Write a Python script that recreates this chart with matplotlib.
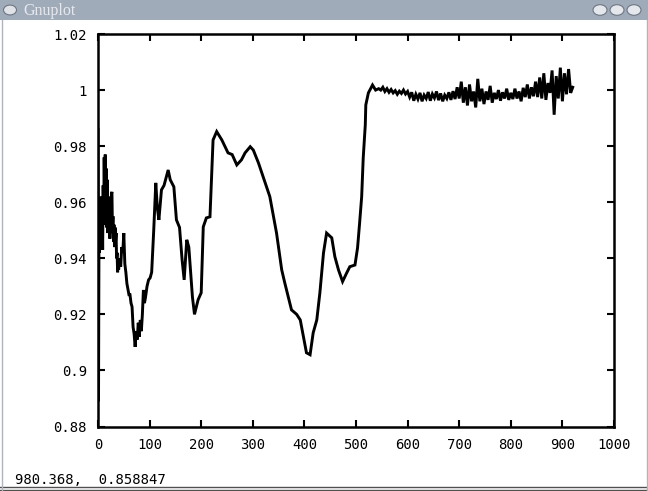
import matplotlib
matplotlib.use("Agg")
import matplotlib.pyplot as plt
from matplotlib.patches import Rectangle, Circle

# trace
x_vals = [0, 1, 2, 3, 4, 5, 6, 7, 8, 9, 10, 11, 12, 13, 14, 15, 16, 17, 18, 19,
          20, 21, 22, 23, 24, 25, 26, 27, 28, 29, 30, 31, 32, 33, 34, 35, 36, 37, 38, 39,
          40, 42, 44, 46, 48, 50, 52, 54, 56, 58, 60, 62, 64, 66, 68, 70, 72, 74, 76, 78,
          80, 82, 84, 86, 88, 90, 92, 95, 98, 101, 104, 108, 112, 115, 118, 123, 128, 136, 140, 147,
          152, 158, 163, 167, 172, 176, 183, 187, 194, 200, 204, 210, 217, 223, 230, 240, 252, 260, 269, 278,
          285, 295, 301, 311, 320, 333, 340, 346, 356, 362, 375, 385, 392, 404, 411, 417, 424, 430, 437, 443,
          453, 459, 466, 474, 482, 488, 498, 503, 507, 511, 514, 518, 519, 524, 532, 538]
y_vals = [0.986, 0.889, 0.955, 0.942, 0.960, 0.944, 0.962, 0.946, 0.958, 0.943, 0.966, 0.952, 0.976, 0.960, 0.977, 0.955, 0.972, 0.951, 0.968, 0.949,
          0.962, 0.950, 0.958, 0.947, 0.955, 0.949, 0.963, 0.9637, 0.950, 0.955, 0.946, 0.952, 0.944, 0.951, 0.946, 0.949, 0.940, 0.942, 0.935, 0.939,
          0.936, 0.940, 0.937, 0.944, 0.942, 0.949, 0.938, 0.935, 0.931, 0.929, 0.927, 0.927, 0.924, 0.9227, 0.9155, 0.913, 0.9084, 0.914, 0.911, 0.917,
          0.912, 0.918, 0.914, 0.920, 0.9287, 0.924, 0.926, 0.930, 0.9323, 0.933, 0.935, 0.950, 0.9669, 0.958, 0.9537, 0.9644, 0.966, 0.9715, 0.968, 0.9655,
          0.9537, 0.951, 0.9394, 0.9323, 0.9466, 0.944, 0.9262, 0.920, 0.9252, 0.9277, 0.9512, 0.9544, 0.9548, 0.9822, 0.9852, 0.9822, 0.9776, 0.9770, 0.9733, 0.9751,
          0.9776, 0.9798, 0.9786, 0.9740, 0.9691, 0.962, 0.9549, 0.949, 0.9359, 0.9312, 0.9216, 0.920, 0.918, 0.9063, 0.9056, 0.9134, 0.918, 0.9277, 0.9419, 0.949,
          0.9473, 0.9406, 0.9359, 0.9317, 0.9348, 0.937, 0.9376, 0.9437, 0.9526, 0.962, 0.9758, 0.9876, 0.9947, 0.999, 1.0018, 1.000]

# noisy plateau, every 4 units from 544 to 920
plateau = [1.0005, 1.0000, 1.0010, 0.9995, 1.0005, 0.9992, 1.0002, 0.9990, 0.9998, 0.9985, 0.9996, 0.9988, 1.0000, 0.9986, 0.9995,
           0.9975, 0.9992, 0.9962, 0.9985, 0.9968, 0.9990, 0.9960, 0.9982, 0.9970, 0.9993, 0.9962, 0.9986, 0.9972, 0.9995, 0.9964,
           0.9988, 0.9960, 0.9982, 0.9970, 0.9992, 0.9965, 0.9996, 0.9968, 1.0010, 0.9970,
           1.003, 0.9955, 1.001, 0.9945, 1.002, 0.9960, 0.9995, 0.9938, 1.004, 0.9960, 1.0005, 0.9950, 0.9995, 0.9965, 1.0015,
           0.9955, 0.9990, 0.9968, 1.0000, 0.9962, 0.9992, 0.9970, 1.0005, 0.9965, 0.9990,
           0.9968, 1.0005, 0.9970, 0.9995, 0.9960, 1.0008, 0.9975, 1.0020, 0.9970, 1.0010, 0.9978, 1.0030,
           0.9975, 1.0045, 0.9970, 1.0060, 0.9965, 1.0025, 0.9990, 1.0070, 0.9912, 1.0050, 0.9970, 1.0080, 0.9960, 1.0060,
           0.9985, 1.0075, 0.9990, 1.0010]
x_vals = x_vals + list(range(544, 544 + 4 * len(plateau), 4))
y_vals = y_vals + plateau

x_ticks = list(range(0, 1001, 100))
y_ticks = [0.88, 0.9, 0.92, 0.94, 0.96, 0.98, 1.0, 1.02]
y_labels = ["0.88", "0.9", "0.92", "0.94", "0.96", "0.98", "1", "1.02"]

W, H = 648, 491
fig = plt.figure(figsize=(W / 100, H / 100), dpi=100)
fig.patch.set_facecolor("white")

# window chrome
fig.patches.append(Rectangle((0, 1 - 20 / H), 1, 20 / H, transform=fig.transFigure,
                             facecolor="#a0abba", edgecolor="none"))
fig.patches.append(Circle((10 / W, 1 - 10 / H), 6.5 / W, transform=fig.transFigure,
                          facecolor="#dfe2e6", edgecolor="#6e7682", lw=0.8))
for cx in [600, 617, 634]:
    fig.patches.append(Circle((cx / W, 1 - 10 / H), 7 / W, transform=fig.transFigure,
                              facecolor="#e4e7eb", edgecolor="#6e7682", lw=0.8))
fig.text(23 / W, 1 - 11 / H, "Gnuplot", color="#e6e9ee", fontsize=11.5,
         family="Liberation Serif", va="center", ha="left")
fig.text(15 / W, 1 - 480 / H, "980.368,  0.858847", family="DejaVu Sans Mono",
         fontsize=10, va="center", ha="left")
fig.lines.append(plt.Line2D([0, 1], [1 - 487 / H, 1 - 487 / H], transform=fig.transFigure,
                            color="#505050", lw=1))
fig.lines.append(plt.Line2D([0, 1], [1 - 490 / H, 1 - 490 / H], transform=fig.transFigure,
                            color="#505050", lw=1))
fig.lines.append(plt.Line2D([1.5 / W, 1.5 / W], [0, 1 - 20 / H], transform=fig.transFigure,
                            color="#b0b4ba", lw=1))
fig.lines.append(plt.Line2D([646.5 / W, 646.5 / W], [0, 1 - 20 / H], transform=fig.transFigure,
                            color="#b0b4ba", lw=1))

ax = fig.add_axes([98 / W, 1 - 426.5 / H, 516 / W, 392.5 / H])
ax.plot(x_vals, y_vals, color="black", lw=2.1, solid_joinstyle="miter")
ax.set_xlim(0, 1000)
ax.set_ylim(0.88, 1.02)
ax.set_xticks(x_ticks)
ax.set_yticks(y_ticks)
ax.set_yticklabels(y_labels)
for s in ax.spines.values():
    s.set_linewidth(1.8)
ax.tick_params(direction="in", length=5, width=1.5, top=True, right=True,
               labelsize=10, pad=8)
for lab in ax.get_xticklabels() + ax.get_yticklabels():
    lab.set_family("DejaVu Sans Mono")

fig.savefig("out.png", dpi=100)
